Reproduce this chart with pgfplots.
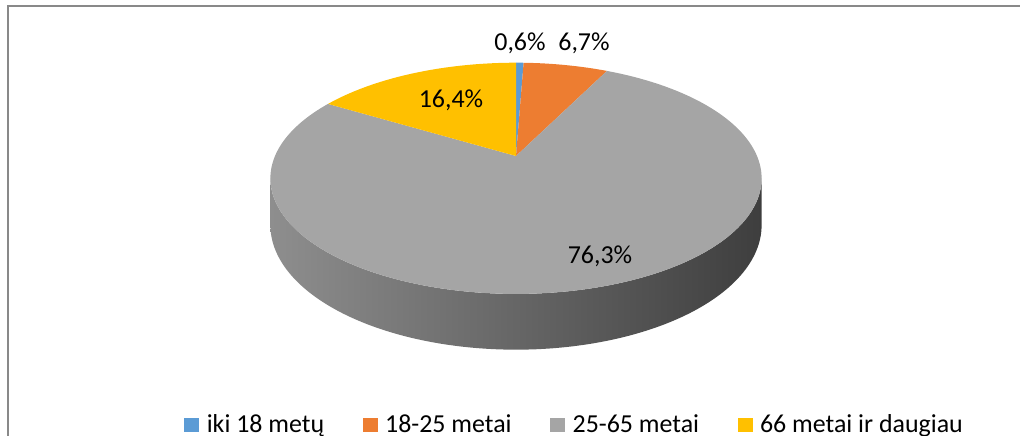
\documentclass[border=0pt]{standalone}
\usepackage{pgfplots}
\pgfplotsset{compat=1.18}
\usepackage{fontspec}
\setmainfont{Carlito}
\definecolor{cA}{HTML}{5B9BD5}
\definecolor{cB}{HTML}{ED7D31}
\definecolor{cC}{HTML}{A5A5A5}
\definecolor{cD}{HTML}{FFC000}
\definecolor{frame}{HTML}{898989}
\definecolor{sideL}{HTML}{8E8E8E}
\definecolor{sideR}{HTML}{3E3E3E}
% shares (%)
\def\vA{0.6}
\def\vB{6.7}
\def\vC{76.3}
\def\vD{16.4}
\pgfmathsetmacro{\aA}{0}
\pgfmathsetmacro{\aB}{3.6*\vA}
\pgfmathsetmacro{\aC}{3.6*(\vA+\vB)}
\pgfmathsetmacro{\aD}{3.6*(\vA+\vB+\vC)}
\pgfmathsetmacro{\aE}{3.6*(\vA+\vB+\vC+\vD)}
\begin{document}
\begin{tikzpicture}
\begin{axis}[
  x=1bp, y=1bp, y dir=reverse,
  xmin=0, xmax=1020, ymin=0, ymax=436,
  hide axis, clip=false,
  declare function={
    px(\a)=516+241*sin(\a)/(1+0.193*cos(\a));
    py(\a)=156-111.3*cos(\a)/(1+0.193*cos(\a));
    th(\t)=(\t<=1)*(101+158*\t)+(\t>1)*(101+158*(2-\t));
    dd(\t)=(\t>1)*45;
  },
  legend columns=4,
  legend image code/.code={\fill[#1] (0bp,-7bp) rectangle (15bp,7bp);},
  legend style={at={(axis cs:184.3,424.5)}, anchor=west, draw=none, fill=none,
    inner sep=0pt, outer sep=0pt,
    font=\fontsize{26}{31}\selectfont,
    nodes={inner sep=0pt},
    /tikz/every odd column/.append style={column sep=7.5bp},
    /tikz/every even column/.append style={column sep=38.5bp}},
]
% frame
\draw[frame, line width=1.5bp] (axis cs:8,436) -- (axis cs:8,6) -- (axis cs:1020,6);
% side of the pie (front edge)
\addplot[forget plot, draw=none, left color=sideL, right color=sideR,
  domain=0:2, samples=401, variable=\t]
  ({px(th(\t))}, {156+(-111.3*cos(th(\t))+dd(\t))/(1+0.193*cos(th(\t)))});
% slices
\addplot[fill=cA, draw=none, domain=\aA:\aB, samples=6, variable=\a]
  ({px(\a)},{py(\a)}) -- (axis cs:516,156) -- cycle;
\addplot[fill=cB, draw=none, domain=\aB:\aC, samples=30, variable=\a]
  ({px(\a)},{py(\a)}) -- (axis cs:516,156) -- cycle;
\addplot[fill=cC, draw=none, domain=\aC:\aD, samples=300, variable=\a]
  ({px(\a)},{py(\a)}) -- (axis cs:516,156) -- cycle;
\addplot[fill=cD, draw=none, domain=\aD:\aE, samples=60, variable=\a]
  ({px(\a)},{py(\a)}) -- (axis cs:516,156) -- cycle;
\legend{iki 18 metų, 18-25 metai, 25-65 metai, 66 metai ir daugiau}
% data labels
\node[font=\fontsize{26}{30}\selectfont] at (axis cs:520,43) {0,6\%};
\node[font=\fontsize{26}{30}\selectfont] at (axis cs:584,43) {6,7\%};
\node[font=\fontsize{26}{30}\selectfont] at (axis cs:451,100) {16,4\%};
\node[font=\fontsize{26}{30}\selectfont] at (axis cs:600,256) {76,3\%};
\coordinate (BL) at (axis cs:0,436);
\coordinate (TR) at (axis cs:1020,0);
\end{axis}
\pgfresetboundingbox
\path (BL) rectangle (TR);
\end{tikzpicture}
\end{document}
